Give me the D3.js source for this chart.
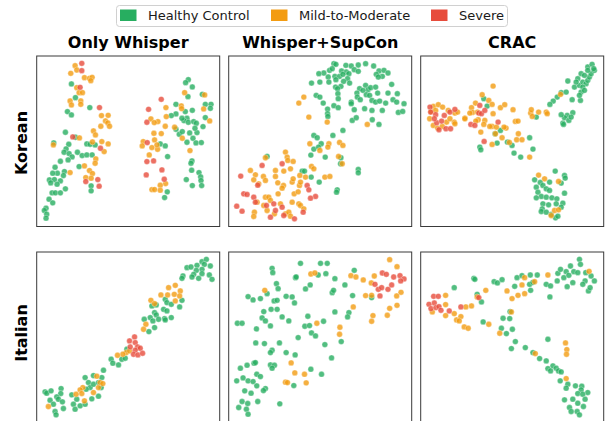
<!DOCTYPE html>
<html><head><meta charset="utf-8">
<script src="https://cdn.jsdelivr.net/npm/d3@7"></script>
<style>body{margin:0;background:#fff}svg{display:block}</style>
</head><body>
<script>
// ---------- DATA ----------
const classes = ["Healthy Control", "Mild-to-Moderate", "Severe"];
const classColors = ["#27ae60", "#f39c12", "#e74c3c"];
const methods = ["Only Whisper", "Whisper+SupCon", "CRAC"];
const languages = ["Korean", "Italian"];

// 2-D embedding coordinates (arbitrary t-SNE units), per panel and class
const korWhisperHC = [[124,117],[136,158],[179,188],[112,200],[124,210],[106,262],[71,294],[136,277],[170,297],[180,298],[116,298],[195,300],[108,312],[102,322],[117,326],[142,322],[156,332],[170,330],[186,330],[126,336],[114,345],[91,349],[75,367],[147,365],[103,380],[82,385],[68,385],[100,392],[58,405],[73,404],[91,408],[62,414],[81,418],[106,432],[183,423],[183,438],[66,444],[76,444],[91,444],[57,463],[68,474],[48,490],[43,497],[50,508],[48,520],[474,104],[466,113],[486,126],[473,155],[516,148],[437,178],[486,196],[525,178],[542,178],[540,190],[437,207],[423,212],[465,200],[470,220],[461,227],[474,232],[490,230],[498,235],[525,218],[518,245],[437,253],[447,268],[456,260],[478,264],[500,263],[488,280],[390,297],[405,303],[470,292],[497,294],[513,293],[485,348],[482,355],[412,335],[484,376],[506,383],[511,396],[468,404],[512,407],[486,422],[514,422],[411,441],[403,458],[455,220],[494,250]];
const korWhisperMM = [[135,62],[140,75],[122,85],[163,98],[178,100],[186,97],[182,107],[140,128],[147,143],[157,143],[120,168],[124,180],[152,168],[152,178],[214,212],[234,211],[226,228],[233,234],[212,244],[238,244],[190,258],[70,300],[148,279],[196,270],[187,291],[215,290],[234,297],[222,320],[197,342],[195,355],[163,363],[178,377],[187,386],[120,383],[167,398],[183,400],[463,143],[523,150],[453,183],[454,191],[407,188],[520,192],[408,215],[362,222],[383,230],[372,233],[405,244],[433,247],[538,228],[371,265],[393,266],[456,280],[339,290],[336,303],[373,285],[365,308],[382,313],[380,300],[479,317],[357,330],[406,416],[390,421],[365,434],[373,434],[390,436]];
const korWhisperSV = [[155,55],[155,77],[150,127],[208,188],[128,276],[211,310],[203,404],[167,410],[207,424],[393,163],[355,193],[350,232],[351,293],[350,350],[370,348],[348,390],[395,375],[402,403]];

const korSupConHC = [[335,40],[341,42],[371,45],[387,47],[408,44],[430,40],[454,47],[305,68],[290,70],[322,60],[330,55],[358,62],[372,65],[380,70],[396,58],[408,63],[470,62],[485,60],[497,68],[462,72],[480,78],[468,80],[318,80],[338,78],[352,78],[362,72],[376,85],[268,98],[293,95],[320,95],[341,88],[364,93],[382,98],[340,110],[356,108],[346,115],[430,105],[412,115],[437,118],[445,112],[460,110],[508,102],[282,135],[293,140],[347,130],[348,145],[404,128],[422,120],[432,133],[442,135],[466,128],[497,128],[525,130],[387,155],[387,160],[405,140],[414,148],[449,150],[460,155],[472,152],[490,158],[512,148],[523,155],[545,160],[303,158],[335,166],[348,172],[396,178],[427,175],[449,180],[480,180],[528,186],[541,183],[316,176],[316,190],[317,198],[390,210],[402,202],[450,208],[470,222],[275,255],[285,262],[332,255],[362,240],[297,280],[275,296],[289,290],[266,314],[309,320],[356,322],[408,357],[408,367],[355,340],[240,362],[247,362],[267,380],[291,395],[345,418],[343,425],[135,318]];
const korSupConMM = [[230,158],[245,140],[260,200],[315,215],[435,222],[263,280],[320,280],[352,276],[362,285],[293,300],[317,290],[190,305],[195,320],[197,330],[213,333],[130,322],[349,318],[360,340],[268,348],[275,355],[205,355],[85,360],[100,373],[124,378],[160,360],[160,378],[185,362],[233,375],[250,380],[308,380],[323,378],[95,388],[130,390],[110,400],[167,397],[184,405],[210,395],[213,385],[232,405],[235,395],[168,430],[180,413],[216,430],[228,424],[130,440],[140,440],[105,455],[125,465],[145,450],[175,460],[210,455],[230,460],[235,465],[97,485],[95,498],[135,480],[157,490],[190,490],[200,485],[205,497],[245,475]];
const korSupConSV = [[120,345],[180,340],[56,377],[107,404],[255,405],[65,430],[75,432],[95,440],[260,418],[280,438],[265,443],[44,467],[60,482],[155,460],[133,465],[160,480],[185,495],[145,500],[217,505],[243,485],[180,470],[100,455]];

const korCracHC = [[207,145],[217,167],[241,250],[257,240],[195,290],[198,298],[247,278],[278,275],[292,285],[298,308],[318,320],[345,262],[355,296],[365,200],[460,92],[440,127],[428,140],[416,152],[406,162],[455,125],[473,148],[498,150],[480,110],[495,105],[505,95],[515,100],[520,90],[525,80],[530,70],[540,60],[520,50],[533,42],[538,55],[500,70],[510,75],[520,60],[490,85],[485,95],[505,110],[500,125],[495,135],[510,120],[475,187],[458,195],[450,202],[445,218],[447,222],[463,210],[470,200],[440,193],[360,388],[422,362],[450,375],[452,383],[377,396],[365,410],[385,405],[405,395],[440,398],[395,415],[405,420],[370,425],[380,438],[395,440],[412,442],[427,445],[450,428],[365,442],[385,460],[402,463],[425,460],[445,458],[440,470],[383,475],[380,483],[395,485],[410,492],[423,502],[430,497]];
const korCracMM = [[55,168],[70,163],[83,170],[48,183],[62,180],[100,180],[120,188],[128,185],[44,205],[55,225],[68,233],[82,228],[95,215],[118,215],[105,205],[120,220],[150,203],[235,107],[202,133],[222,150],[182,158],[232,162],[170,172],[173,186],[188,185],[235,190],[257,172],[270,163],[295,178],[302,213],[310,212],[274,233],[268,230],[232,228],[245,230],[210,210],[225,228],[165,188],[150,205],[190,208],[207,222],[183,212],[198,245],[242,250],[262,262],[232,282],[284,276],[306,268],[322,268],[348,188],[353,198],[350,178],[372,185],[395,185],[398,190],[438,132],[311,250],[345,320],[372,374],[390,385],[432,393],[420,480],[410,495],[432,478]];
const korCracSV = [[45,170],[47,185],[62,193],[88,195],[105,185],[120,177],[65,217],[80,212],[72,238],[93,235],[107,235],[58,205],[192,188],[200,190],[210,180],[195,165],[250,215],[168,222],[180,225],[208,273]];

const itaWhisperHC = [[470,80],[482,78],[500,73],[515,62],[528,55],[522,70],[540,75],[515,85],[498,88],[490,100],[485,108],[505,112],[515,98],[537,102],[545,115],[458,105],[455,112],[405,175],[410,185],[423,190],[455,178],[448,198],[365,195],[378,192],[400,205],[410,210],[373,215],[378,222],[360,230],[342,235],[368,240],[385,235],[403,233],[423,230],[405,237],[373,260],[356,272],[290,325],[275,355],[285,352],[243,355],[248,367],[265,372],[220,388],[165,410],[190,404],[175,425],[180,440],[168,445],[190,430],[205,425],[215,410],[213,440],[205,466],[185,474],[125,462],[140,475],[130,490],[135,505],[150,495],[165,490],[45,453],[50,457],[63,450],[93,443],[92,458],[80,468],[85,475],[60,478],[70,490],[97,483],[100,503],[75,512],[78,522]];
const itaWhisperMM = [[415,140],[435,133],[450,150],[392,162],[412,162],[432,160],[448,165],[362,178],[373,188],[435,180],[347,250],[340,265],[288,335],[278,340],[262,343],[298,330],[200,406],[205,440],[210,425],[218,428],[158,440],[150,447],[155,458],[138,460],[190,455],[163,480],[55,497]];
const itaWhisperSV = [[313,288],[298,300],[315,305],[300,318],[322,318],[330,322],[315,328],[310,340],[323,342],[337,337]];

const itaSupConHC = [[150,82],[152,95],[235,67],[295,67],[315,67],[220,110],[222,108],[288,102],[311,98],[338,113],[396,88],[163,128],[168,143],[135,158],[78,167],[93,177],[115,173],[156,180],[165,178],[192,166],[210,168],[217,186],[250,144],[264,132],[330,155],[334,148],[368,132],[391,164],[448,170],[125,212],[147,205],[165,205],[120,231],[130,240],[145,255],[180,228],[200,240],[257,226],[248,256],[262,254],[268,276],[280,285],[304,241],[338,213],[380,215],[376,228],[46,247],[60,247],[103,264],[228,290],[357,302],[308,311],[101,306],[127,308],[172,306],[150,328],[145,335],[192,335],[219,342],[328,351],[55,382],[75,373],[96,367],[100,365],[145,372],[157,373],[150,382],[266,385],[298,400],[215,434],[44,420],[63,411],[78,420],[93,422],[104,400],[115,407],[104,435],[130,443],[124,449],[68,450],[87,457],[60,482],[77,488],[107,482],[50,500],[73,505],[78,520],[173,489]];
const itaSupConMM = [[128,148],[266,99],[278,96],[386,104],[401,108],[423,117],[447,126],[456,105],[502,56],[524,77],[430,164],[448,163],[393,198],[452,224],[448,241],[495,223],[502,202],[524,193],[536,154],[523,165],[284,247],[353,259],[352,280],[207,366],[218,396],[247,400],[252,426],[190,424],[196,425]];
const itaSupConSV = [[480,96],[492,100],[514,108],[533,104],[545,114],[535,120],[458,130],[468,145],[478,140],[497,145],[508,132],[473,165]];

const itaCracHC = [[118,140],[177,112],[180,115],[187,160],[200,183],[238,122],[248,126],[262,116],[300,136],[307,110],[322,104],[347,102],[368,102],[345,130],[348,148],[355,124],[395,130],[408,135],[406,168],[430,97],[438,85],[455,92],[468,75],[495,55],[498,70],[475,125],[458,137],[478,92],[490,95],[514,95],[530,105],[540,120],[512,120],[505,130],[522,150],[527,140],[428,120],[448,110],[463,103],[286,212],[265,232],[285,233],[205,243],[260,262],[275,278],[293,265],[302,302],[290,323],[332,320],[355,335],[375,353],[400,295],[395,360],[415,375],[400,383],[408,390],[425,382],[432,390],[440,393],[437,420],[460,430],[455,442],[483,435],[502,436],[500,447],[520,455],[490,458],[505,460],[475,475],[512,475],[450,477],[490,487],[507,497],[465,500],[470,512],[488,512],[495,522]];
const itaCracMM = [[92,163],[92,191],[52,213],[92,224],[118,218],[125,237],[138,227],[133,240],[148,258],[160,262],[153,198],[170,195],[187,168],[213,148],[222,250],[255,277],[277,150],[292,173],[310,163],[330,158],[322,132],[330,110],[360,122],[400,102],[524,91],[290,213],[453,306],[457,326],[456,340],[362,338],[455,413]];
const itaCracSV = [[56,166],[70,166],[42,190],[58,186],[48,203],[63,200],[72,197],[78,208],[103,210],[138,198],[192,170]];

// embedding extents shown in each panel: [xmin, xmax, ytop, ybottom]
const panelExtents = [
  [[20,568,33,545],[20,568,17,528],[17,568,17,528]],
  [[20,568,33,545],[20,568,33,545],[17,568,33,545]]
];
const panelData = [
  [[korWhisperHC,korWhisperMM,korWhisperSV],[korSupConHC,korSupConMM,korSupConSV],[korCracHC,korCracMM,korCracSV]],
  [[itaWhisperHC,itaWhisperMM,itaWhisperSV],[itaSupConHC,itaSupConMM,itaSupConSV],[itaCracHC,itaCracMM,itaCracSV]]
];

// ---------- LAYOUT ----------
const W = 609, H = 421;
const colLeft = [36.7, 228.7, 420.7], panelW = 183;
const rowTop = [56, 252], panelH = 170.5;
const font = "DejaVu Sans, Liberation Sans, sans-serif";

const svg = d3.select("body").append("svg").attr("width", W).attr("height", H);

// panels
languages.forEach((lang, r) => {
  methods.forEach((m, c) => {
    const ext = panelExtents[r][c];
    const x = d3.scaleLinear().domain([ext[0], ext[1]]).range([colLeft[c], colLeft[c] + panelW]);
    const y = d3.scaleLinear().domain([ext[2], ext[3]]).range([rowTop[r], rowTop[r] + panelH]);
    const g = svg.append("g");
    const cid = `clip${r}${c}`;
    svg.append("clipPath").attr("id", cid).append("rect")
      .attr("x", colLeft[c]).attr("y", rowTop[r]).attr("width", panelW).attr("height", panelH);
    const pg = g.append("g").attr("clip-path", `url(#${cid})`);
    panelData[r][c].forEach((pts, k) => {
      pg.selectAll(null).data(pts).enter().append("circle")
        .attr("cx", d => x(d[0])).attr("cy", d => y(d[1]))
        .attr("r", 2.9)
        .attr("fill", classColors[k]).attr("fill-opacity", 0.8)
        .attr("stroke", "#fff").attr("stroke-width", 0.4).attr("stroke-opacity", 0.8);
    });
    g.append("rect")
      .attr("x", colLeft[c]).attr("y", rowTop[r]).attr("width", panelW).attr("height", panelH)
      .attr("fill", "none").attr("stroke", "#3a3a3a").attr("stroke-width", 1);
  });
});

// column titles
methods.forEach((m, c) => {
  svg.append("text").attr("x", colLeft[c] + panelW / 2).attr("y", 48)
    .attr("text-anchor", "middle").attr("font-family", font).attr("font-weight", "bold")
    .attr("font-size", 16).attr("fill", "#000").text(m);
});

// row labels
const rowLabelY = [143, 333];
languages.forEach((lang, r) => {
  svg.append("text").attr("transform", `translate(26.5,${rowLabelY[r]}) rotate(-90)`)
    .attr("text-anchor", "middle").attr("font-family", font).attr("font-weight", "bold")
    .attr("font-size", 16).attr("fill", "#000").text(lang);
});

// legend
const lg = svg.append("g");
lg.append("rect").attr("x", 116.5).attr("y", 5.5).attr("width", 391).attr("height", 21)
  .attr("rx", 3).attr("fill", "#fff").attr("stroke", "#d0d0d0").attr("stroke-width", 1);
const legendX = [120, 271, 431];
classes.forEach((cl, i) => {
  lg.append("rect").attr("x", legendX[i]).attr("y", 9.5).attr("width", 16.5).attr("height", 11.5)
    .attr("fill", classColors[i]);
  lg.append("text").attr("x", legendX[i] + 28).attr("y", 20)
    .attr("font-family", font).attr("font-size", 13).attr("fill", "#1a1a1a").text(cl);
});
</script>
</body></html>
